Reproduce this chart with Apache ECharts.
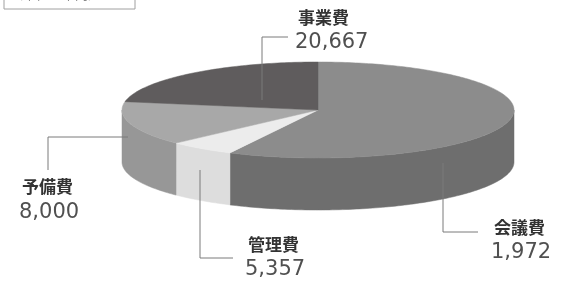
<!DOCTYPE html>
<html>
<head>
<meta charset="utf-8">
<script src="https://cdn.jsdelivr.net/npm/echarts@6/dist/echarts.min.js"></script>
<style>
  html, body { margin: 0; padding: 0; background: #fff; }
  #chart { width: 565px; height: 285px; }
</style>
</head>
<body>
<div id="chart"></div>
<script>
// 項目（12時の位置から時計回り）
var categories = ['事業費', '会議費', '管理費', '予備費'];
var values = [20667, 1972, 5357, 8000];
// 元の図では、ラベルが時計回りに隣の扇形へ付いている
var labelOf = [1, 2, 3, 0];

var topColors = ['#8c8c8c', '#ececec', '#a8a8a8', '#5f5c5d'];
var sideColors = ['#6e6e6e', '#dddddd', '#979797', '#4a4748'];

var pie = { cx: 318, cy: 110, rx: 196, ry: 48, depth: 52 };

// 引出線とラベル位置（扇形ごと）
var leaders = [
  { line: [[443, 163], [443, 232], [478, 232]], x: 494, ny: 228, vy: 253 },
  { line: [[200, 170], [200, 258], [233, 258]], x: 248, ny: 245, vy: 270 },
  { line: [[128, 137], [48, 137], [48, 170]], x: 22, ny: 187, vy: 213 },
  { line: [[262, 100], [262, 37], [288, 37]], x: 298, ny: 18, vy: 43 }
];

var total = values.reduce(function (a, b) { return a + b; }, 0);

function pt(t, dy) {
  return [pie.cx + pie.rx * Math.cos(t), pie.cy + pie.ry * Math.sin(t) + (dy || 0)];
}

function arc(t0, t1, dy) {
  var pts = [];
  var n = Math.max(2, Math.ceil((t1 - t0) / (Math.PI / 180)));
  for (var k = 0; k <= n; k++) {
    pts.push(pt(t0 + (t1 - t0) * k / n, dy));
  }
  return pts;
}

function renderItem(params, api) {
  var i = params.dataIndex;
  var before = 0;
  for (var j = 0; j < i; j++) before += values[j];
  var a0 = -Math.PI / 2 + before / total * Math.PI * 2;
  var a1 = a0 + api.value(0) / total * Math.PI * 2;

  var children = [];

  // 側面（手前側だけ）
  var s0 = Math.max(a0, 0), s1 = Math.min(a1, Math.PI);
  if (s1 > s0) {
    var wall = arc(s0, s1, 0).concat(arc(s0, s1, pie.depth).reverse());
    children.push({
      type: 'polygon',
      z2: 5,
      shape: { points: wall },
      style: { fill: sideColors[i], stroke: sideColors[i], lineWidth: 0.5 }
    });
  }

  // 上面
  var topPts = [[pie.cx, pie.cy]].concat(arc(a0, a1, 0));
  children.push({
    type: 'polygon',
    z2: 10,
    shape: { points: topPts },
    style: { fill: topColors[i], stroke: topColors[i], lineWidth: 0.5 }
  });

  // 引出線とラベル
  var ld = leaders[i];
  var li = labelOf[i];
  children.push({
    type: 'polyline',
    z2: 20,
    shape: { points: ld.line },
    style: { stroke: '#7a7a7a', lineWidth: 1, fill: null }
  });
  children.push({
    type: 'text',
    z2: 20,
    style: {
      text: categories[li],
      x: ld.x, y: ld.ny,
      align: 'left', verticalAlign: 'middle',
      fill: '#333',
      font: 'bold 17px "Noto Sans CJK JP"'
    }
  });
  children.push({
    type: 'text',
    z2: 20,
    style: {
      text: echarts.format.addCommas(values[li]),
      x: ld.x - 3, y: ld.vy,
      align: 'left', verticalAlign: 'middle',
      fill: '#505050',
      font: '21px "DejaVu Sans"'
    }
  });

  return { type: 'group', children: children };
}

var chart = echarts.init(document.getElementById('chart'));
chart.setOption({
  backgroundColor: '#fff',
  animation: false,
  graphic: [
    {
      type: 'rect',
      shape: { x: 4, y: -14, width: 131, height: 23 },
      style: { fill: '#fff', stroke: '#a0a0a0', lineWidth: 1 }
    },
    {
      type: 'text',
      style: {
        text: '（単位：千円）',
        x: 10, y: -6,
        fill: '#888',
        font: '13px "Noto Sans CJK JP"',
        verticalAlign: 'middle'
      }
    }
  ],
  series: [{
    type: 'custom',
    coordinateSystem: 'none',
    renderItem: renderItem,
    data: values.map(function (v, i) { return { name: categories[i], value: v }; })
  }]
});
</script>
</body>
</html>
